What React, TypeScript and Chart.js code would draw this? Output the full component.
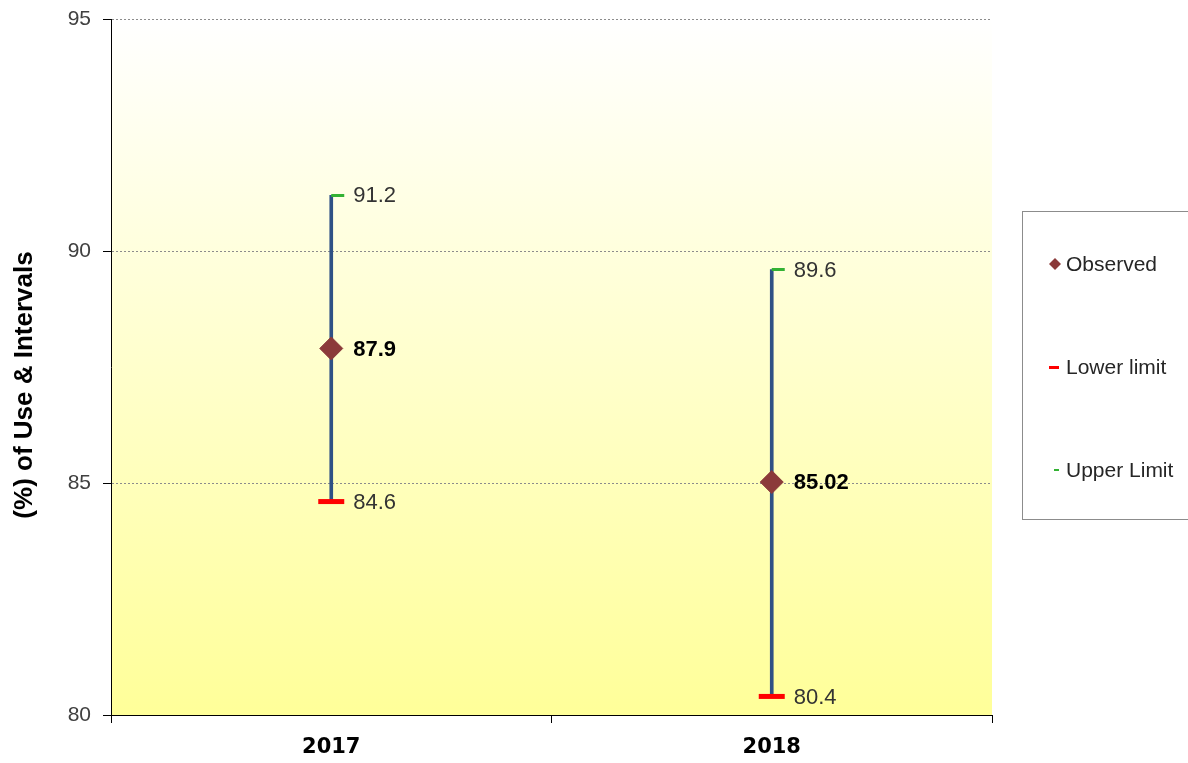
import React, { useEffect, useRef } from "react";
import { Chart, registerables } from "chart.js";

Chart.register(...registerables);

const categories = ["2017", "2018"];
const observed = [87.9, 85.02];
const lowerLimit = [84.6, 80.4];
const upperLimit = [91.2, 89.6];
const yMin = 80;
const yMax = 95;
const yStep = 5;
const yTitle = "(%) of Use & Intervals";
const seriesNames = ["Observed", "Lower limit", "Upper Limit"];

const COL_OBS = "#8B3A3A";
const COL_LOW = "#FF0000";
const COL_UP = "#33B233";
const COL_RANGE = "#2F5185";

export default function App() {
  const ref = useRef<HTMLCanvasElement | null>(null);

  useEffect(() => {
    if (!ref.current) return;

    const upMarker = document.createElement("canvas");
    upMarker.width = 28;
    upMarker.height = 3;
    const mctx = upMarker.getContext("2d")!;
    mctx.fillStyle = COL_UP;
    mctx.fillRect(14, 0, 13, 3);

    const bgPlugin = {
      id: "bgGrad",
      beforeDraw(chart: any) {
        const { ctx, chartArea: a } = chart;
        const g = ctx.createLinearGradient(0, a.top, 0, a.bottom);
        g.addColorStop(0, "#FFFFFF");
        g.addColorStop(1, "#FFFF99");
        ctx.save();
        ctx.fillStyle = g;
        ctx.fillRect(a.left, a.top, a.right - a.left, a.bottom - a.top);
        ctx.restore();
      },
    };

    const labelPlugin = {
      id: "dataLabels",
      afterDatasetsDraw(chart: any) {
        const ctx = chart.ctx;
        ctx.save();
        ctx.textAlign = "left";
        ctx.textBaseline = "middle";
        chart.data.datasets.forEach((ds: any, di: number) => {
          if (!ds.showValue) return;
          const meta = chart.getDatasetMeta(di);
          meta.data.forEach((el: any, i: number) => {
            ctx.font = ds.valueFont;
            ctx.fillStyle = ds.valueColor;
            ctx.fillText(String(ds.data[i]), el.x + 22, el.y + 1);
          });
        });
        ctx.restore();
      },
    };

    const extrasPlugin = {
      id: "extras",
      afterDraw(chart: any) {
        const ctx = chart.ctx;
        ctx.save();
        ctx.translate(25, 385);
        ctx.rotate(-Math.PI / 2);
        ctx.font = "bold 26px 'Liberation Sans'";
        ctx.fillStyle = "#000";
        ctx.textAlign = "center";
        ctx.textBaseline = "middle";
        ctx.fillText(yTitle, 0, 0);
        ctx.restore();

        ctx.save();
        ctx.strokeStyle = "#8C8C8C";
        ctx.lineWidth = 1;
        ctx.strokeRect(1022.5, 211.5, 175, 308);
        ctx.font = "21px 'Liberation Sans'";
        ctx.textAlign = "left";
        ctx.textBaseline = "middle";
        const ys = [264, 367, 470];
        ctx.fillStyle = COL_OBS;
        ctx.beginPath();
        ctx.moveTo(1055, ys[0] - 6);
        ctx.lineTo(1061, ys[0]);
        ctx.lineTo(1055, ys[0] + 6);
        ctx.lineTo(1049, ys[0]);
        ctx.closePath();
        ctx.fill();
        ctx.fillStyle = COL_LOW;
        ctx.fillRect(1049, ys[1] - 1, 10, 3);
        ctx.fillStyle = COL_UP;
        ctx.fillRect(1054, ys[2] - 1, 5, 2);
        ctx.fillStyle = "#262626";
        seriesNames.forEach((n, i) => ctx.fillText(n, 1066, ys[i] + 1));
        ctx.restore();
      },
    };

    const chart = new Chart(ref.current, {
      type: "bar",
      data: {
        labels: categories,
        datasets: [
          {
            type: "line",
            label: seriesNames[0],
            data: observed,
            showLine: false,
            pointStyle: "rectRot",
            pointRadius: 11.5,
            pointHoverRadius: 11.5,
            pointBackgroundColor: COL_OBS,
            pointBorderColor: COL_OBS,
            pointBorderWidth: 1,
            order: 0,
            showValue: true,
            valueFont: "bold 22px 'Liberation Sans'",
            valueColor: "#000000",
          } as any,
          {
            type: "line",
            label: seriesNames[1],
            data: lowerLimit,
            showLine: false,
            pointStyle: "line",
            pointRadius: 13,
            pointHoverRadius: 13,
            pointBorderColor: COL_LOW,
            pointBorderWidth: 5,
            order: 1,
            showValue: true,
            valueFont: "22px 'Liberation Sans'",
            valueColor: "#333333",
          } as any,
          {
            type: "line",
            label: seriesNames[2],
            data: upperLimit,
            showLine: false,
            pointStyle: upMarker,
            pointRadius: 7,
            pointHoverRadius: 7,
            order: 2,
            showValue: true,
            valueFont: "22px 'Liberation Sans'",
            valueColor: "#333333",
          } as any,
          {
            type: "bar",
            label: "range",
            data: lowerLimit.map((l, i) => [l, upperLimit[i]]),
            backgroundColor: COL_RANGE,
            barThickness: 3,
            borderWidth: 0,
            order: 10,
          } as any,
        ],
      },
      options: {
        animation: false,
        responsive: true,
        maintainAspectRatio: false,
        layout: { padding: { top: 19, right: 196, left: 0, bottom: 0 } },
        plugins: {
          legend: { display: false },
          tooltip: { enabled: false },
          title: { display: false },
        },
        scales: {
          x: {
            type: "category",
            offset: true,
            afterFit: (s: any) => {
              s.height = 48;
              s.paddingLeft = 0;
              s.paddingRight = 0;
            },
            grid: {
              offset: true,
              drawOnChartArea: false,
              drawTicks: true,
              tickLength: 8,
              color: "#000",
              tickColor: "#000",
            },
            border: { display: true, color: "#000", width: 1 },
            ticks: {
              padding: 12,
              color: "#000",
              font: { family: "'DejaVu Sans'", size: 21, weight: "bold" },
            },
          },
          y: {
            min: yMin,
            max: yMax,
            afterFit: (s: any) => {
              s.width = 111;
              s.paddingTop = 0;
              s.paddingBottom = 0;
            },
            ticks: {
              stepSize: yStep,
              padding: 12,
              color: "#404040",
              font: { family: "'Liberation Sans'", size: 21 },
            },
            grid: {
              color: (c: any) => (c.tick && c.tick.value === yMin ? "rgba(0,0,0,0)" : "#8C8C8C"),
              tickColor: "#000",
              tickLength: 8,
              lineWidth: 1,
            },
            border: { display: true, color: "#000", width: 1, dash: [2, 2] },
          },
        },
      } as any,
      plugins: [bgPlugin, labelPlugin, extrasPlugin],
    });

    return () => chart.destroy();
  }, []);

  return (
    <div style={{ position: "fixed", left: 0, top: 0, width: 1188, height: 763, background: "#fff" }}>
      <canvas ref={ref} />
    </div>
  );
}
